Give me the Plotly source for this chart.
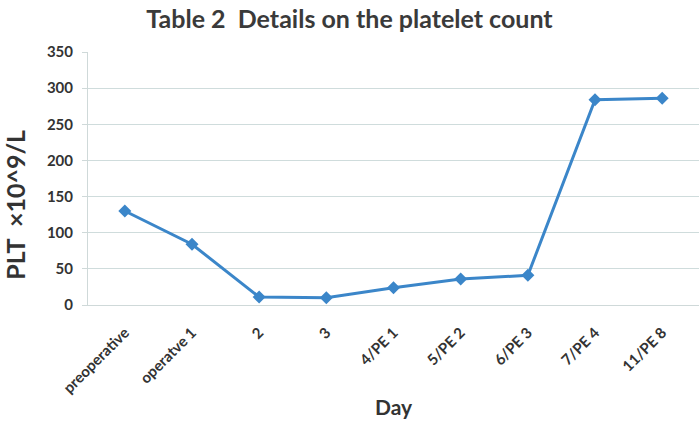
import plotly.graph_objects as go

days = ["preoperative", "operatve 1", "2", "3", "4/PE 1", "5/PE 2", "6/PE 3", "7/PE 4", "11/PE 8"]
plt_counts = [130, 84, 11, 10, 24, 36, 41, 284, 286]
y_ticks = [0, 50, 100, 150, 200, 250, 300, 350]

fig = go.Figure()
fig.add_trace(go.Scatter(
    x=days, y=plt_counts, mode="lines+markers",
    line=dict(color="#3b86c9", width=3),
    marker=dict(symbol="diamond", size=10, color="#3b86c9"),
    cliponaxis=False,
))

fig.update_layout(
    width=699, height=421,
    margin=dict(l=88, r=0, t=52, b=116),
    paper_bgcolor="white", plot_bgcolor="white",
    showlegend=False,
    font=dict(family="Lato", color="#333333"),
    title=dict(text="<b>Table 2  Details on the platelet count</b>",
               x=0.5, xanchor="center", y=0.975, yanchor="top",
               font=dict(size=25, family="Lato", color="#3a3a3a")),
    xaxis=dict(
        type="category", tickangle=-45,
        tickfont=dict(size=15, family="Lato", color="#333333", weight="bold"),
        showgrid=False, showline=True, linecolor="#cfd9d9", linewidth=1,
        ticks="", ticklabelstandoff=12,
    ),
    yaxis=dict(
        range=[0, 350], tickvals=y_ticks,
        tickfont=dict(size=15, family="Lato", color="#333333", weight="bold"),
        showgrid=True, gridcolor="#cfdcdc", gridwidth=1.2,
        showline=True, linecolor="#cfd9d9", linewidth=1,
        ticks="outside", ticklen=5, tickcolor="#cfd9d9",
        ticklabelstandoff=6,
        zeroline=False,
    ),
    annotations=[
        dict(text="<b>PLT  ×10^9/L</b>", xref="paper", yref="paper",
             x=-0.12, y=(305 - 205) / 253, xanchor="center", yanchor="middle",
             textangle=-90, showarrow=False,
             font=dict(size=25, family="Lato", color="#333333")),
        dict(text="<b>Day</b>", xref="paper", yref="paper",
             x=0.5, y=(305 - 406) / 253, xanchor="center", yanchor="middle",
             showarrow=False,
             font=dict(size=21, family="Lato", color="#333333")),
    ],
)

fig.write_html("out.html")
